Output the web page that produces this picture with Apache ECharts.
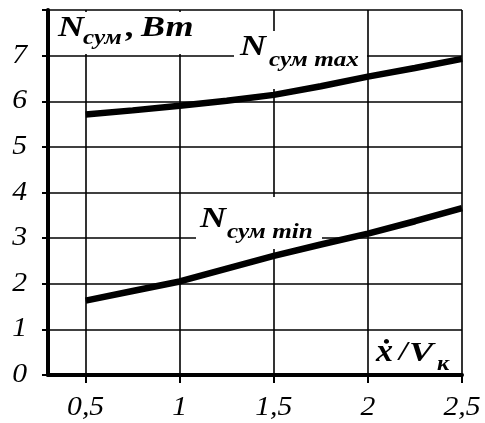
<!DOCTYPE html>
<html>
<head>
<meta charset="utf-8">
<script src="https://cdn.jsdelivr.net/npm/echarts@6/dist/echarts.min.js"></script>
<style>
  html, body { margin: 0; padding: 0; background: #fff; }
  #main { width: 485px; height: 423px; }
</style>
</head>
<body>
<div id="main"></div>
<script>
var xTicks = [0.5, 1, 1.5, 2, 2.5];
var yTicks = [0, 1, 2, 3, 4, 5, 6, 7];
var xValues = [0.5, 0.75, 1, 1.25, 1.5, 1.75, 2, 2.25, 2.5];
var nMax = [5.71, 5.80, 5.90, 6.01, 6.14, 6.33, 6.54, 6.73, 6.93];
var nMin = [1.63, 1.84, 2.05, 2.33, 2.61, 2.86, 3.10, 3.37, 3.66];

var FONT = 'Liberation Serif';

function pairs(ys) {
  return xValues.map(function (x, i) { return [x, ys[i]]; });
}

var option = {
  animation: false,
  backgroundColor: '#fff',
  grid: { left: 48, right: 23, top: 10, bottom: 48, containLabel: false },
  xAxis: {
    type: 'value',
    min: 0.3,
    max: 2.5,
    axisLine: { show: true, onZero: false, lineStyle: { color: '#000', width: 4 } },
    axisTick: { show: true, length: 8, customValues: xTicks, lineStyle: { color: '#000', width: 2 } },
    // tick labels drawn below as italic graphic text
    axisLabel: { show: false, customValues: xTicks },
    splitLine: { show: true, lineStyle: { color: '#000', width: 1.6 } }
  },
  yAxis: {
    type: 'value',
    min: 0,
    max: 8,
    interval: 1,
    axisLine: { show: true, lineStyle: { color: '#000', width: 4 } },
    axisTick: { show: true, length: 6, lineStyle: { color: '#000', width: 2 } },
    axisLabel: { show: false },
    splitLine: { show: true, lineStyle: { color: '#000', width: 1.6 } }
  },
  series: [
    {
      name: 'max', type: 'line', data: pairs(nMax), showSymbol: false, z: 5,
      lineStyle: { color: '#000', width: 6.5 }
    },
    {
      name: 'min', type: 'line', data: pairs(nMin), showSymbol: false, z: 5,
      lineStyle: { color: '#000', width: 6.5 }
    }
  ]
};

var chart = echarts.init(document.getElementById('main'));
chart.setOption(option);

function box(x, y, w, h) {
  return { type: 'rect', z: 3, silent: true, shape: { x: x, y: y, width: w, height: h }, style: { fill: '#fff' } };
}
function txt(s, x, y, size, sx) {
  return {
    type: 'text', z: 4, silent: true, x: x, y: y, scaleX: sx || 1.2,
    style: {
      text: s, fill: '#000', font: 'italic bold ' + size + 'px "' + FONT + '"',
      align: 'left', verticalAlign: 'middle'
    }
  };
}
function tick(s, x, y, align, valign) {
  return {
    type: 'text', z: 4, silent: true, x: x, y: y, scaleX: 1.1,
    style: {
      text: s, fill: '#000', font: 'italic 27px "' + FONT + '"',
      align: align, verticalAlign: valign
    }
  };
}

var labels = [];
xTicks.forEach(function (v) {
  var p = chart.convertToPixel({ gridIndex: 0 }, [v, 0]);
  labels.push(tick(String(v).replace('.', ','), p[0], p[1] + 19, 'center', 'top'));
});
yTicks.forEach(function (v) {
  var p = chart.convertToPixel({ gridIndex: 0 }, [0.3, v]);
  labels.push(tick(String(v), p[0] - 21, p[1], 'right', 'middle'));
});

chart.setOption({
  graphic: labels.concat([
    box(50, 12, 183, 42),
    box(234, 31, 133, 58),
    box(196, 197, 126, 52),
    box(371, 333, 89, 39),
    txt('N', 58, 28, 30),
    txt('сум', 83, 39, 21),
    txt(',', 126, 28, 30),
    txt('Вт', 141, 28, 30),
    txt('N', 240, 47, 30),
    txt('сум max', 269, 61, 21),
    txt('N', 200, 219, 30),
    txt('сум min', 227, 233, 21),
    txt('ẋ', 376, 353, 31, 1.1),
    txt('/', 399, 353, 28, 1.1),
    txt('V', 409, 354, 28, 1.3),
    txt('к', 437, 365, 20, 1.2)
  ])
});
</script>
</body>
</html>
